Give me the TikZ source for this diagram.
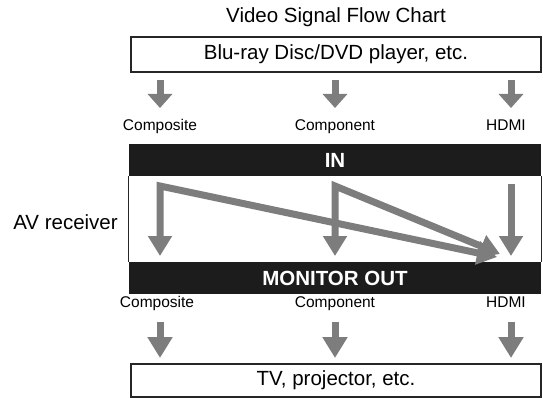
\documentclass[tikz,border=0pt]{standalone}
\usepackage{fontspec}
\setmainfont{Liberation Sans}
\usetikzlibrary{arrows.meta}
\definecolor{arrowgray}{RGB}{125,125,125}
\definecolor{bandblack}{RGB}{28,28,28}
\begin{document}
\begin{tikzpicture}[x=1pt,y=-1pt,
  bigtext/.style={font=\fontsize{20.5}{24}\selectfont, inner sep=0pt},
  lbl/.style={font=\fontsize{15.5}{18}\selectfont, inner sep=0pt, anchor=base},
  boxnode/.style={draw=black!85, line width=1.6pt, minimum width=410pt, inner sep=0pt, font=\fontsize{20.5}{24}\selectfont},
  band/.style={fill=bandblack, minimum width=412pt, minimum height=32pt, inner sep=0pt, text=white, font=\bfseries\fontsize{20.5}{24}\selectfont},
  flowtop/.style={draw=arrowgray, line width=7pt, -{Triangle[width=24pt,length=14pt]}},
  flowbot/.style={draw=arrowgray, line width=7pt, -{Triangle[width=24pt,length=21pt]}},
  flowin/.style={draw=arrowgray, line width=7pt, line join=miter, {Triangle[width=23pt,length=20pt]}-{Triangle[width=23pt,length=20pt]}},
  flowone/.style={draw=arrowgray, line width=7pt, -{Triangle[width=23pt,length=20pt]}}
]
\useasboundingbox (0,0) rectangle (543,398);

% title and boxes
\node[bigtext] (title) at (336,17) {Video Signal Flow Chart};
\node[boxnode, minimum height=35pt] (src) at (336,54.5) {Blu-ray Disc/DVD player, etc.};
\node[boxnode, minimum height=33pt] (dst) at (336,380.5) {TV, projector, etc.};
\node[bigtext] (av) at (65.5,222) {AV receiver};

% receiver
\node[band] (in) at (335,160) {IN};
\node[band] (out) at (335,278) {MONITOR OUT};
\draw[black!85, line width=1.2pt] (in.south west) -- (out.north west);
\draw[black!85, line width=1.2pt] (in.south east) -- (out.north east);

% top labels
\node[lbl] (tcomp) at (160,131) {Composite};
\node[lbl] (tcomn) at (335,131) {Component};
\node[lbl] (thdmi) at (506,131) {HDMI};
% bottom labels
\node[lbl] (bcomp) at (157,307) {Composite};
\node[lbl] (bcomn) at (335,307) {Component};
\node[lbl] (bhdmi) at (506,307) {HDMI};

% top arrows
\coordinate (ta1) at (160,80);  \coordinate (tb1) at (160,108);
\coordinate (ta2) at (335,80);  \coordinate (tb2) at (335,108);
\coordinate (ta3) at (511,80);  \coordinate (tb3) at (511,108);
\draw[flowtop] (ta1) -- (tb1);
\draw[flowtop] (ta2) -- (tb2);
\draw[flowtop] (ta3) -- (tb3);

% bottom arrows
\coordinate (ba1) at (160,322);  \coordinate (bb1) at (160,358);
\coordinate (ba2) at (335,322);  \coordinate (bb2) at (335,358);
\coordinate (ba3) at (511,322);  \coordinate (bb3) at (511,358);
\draw[flowbot] (ba1) -- (bb1);
\draw[flowbot] (ba2) -- (bb2);
\draw[flowbot] (ba3) -- (bb3);

% internal arrows
\coordinate (c1) at (160,186);  \coordinate (e1) at (160,256);
\coordinate (c2) at (335,186);  \coordinate (e2) at (335,256);
\coordinate (c3) at (511,184);  \coordinate (e3) at (511,256);
\coordinate (d1) at (497,257);
\coordinate (d2) at (500,254);
\draw[flowin] (e1) -- (c1) -- (d1);
\draw[flowin] (e2) -- (c2) -- (d2);
\draw[flowone] (c3) -- (e3);
\end{tikzpicture}
\end{document}
